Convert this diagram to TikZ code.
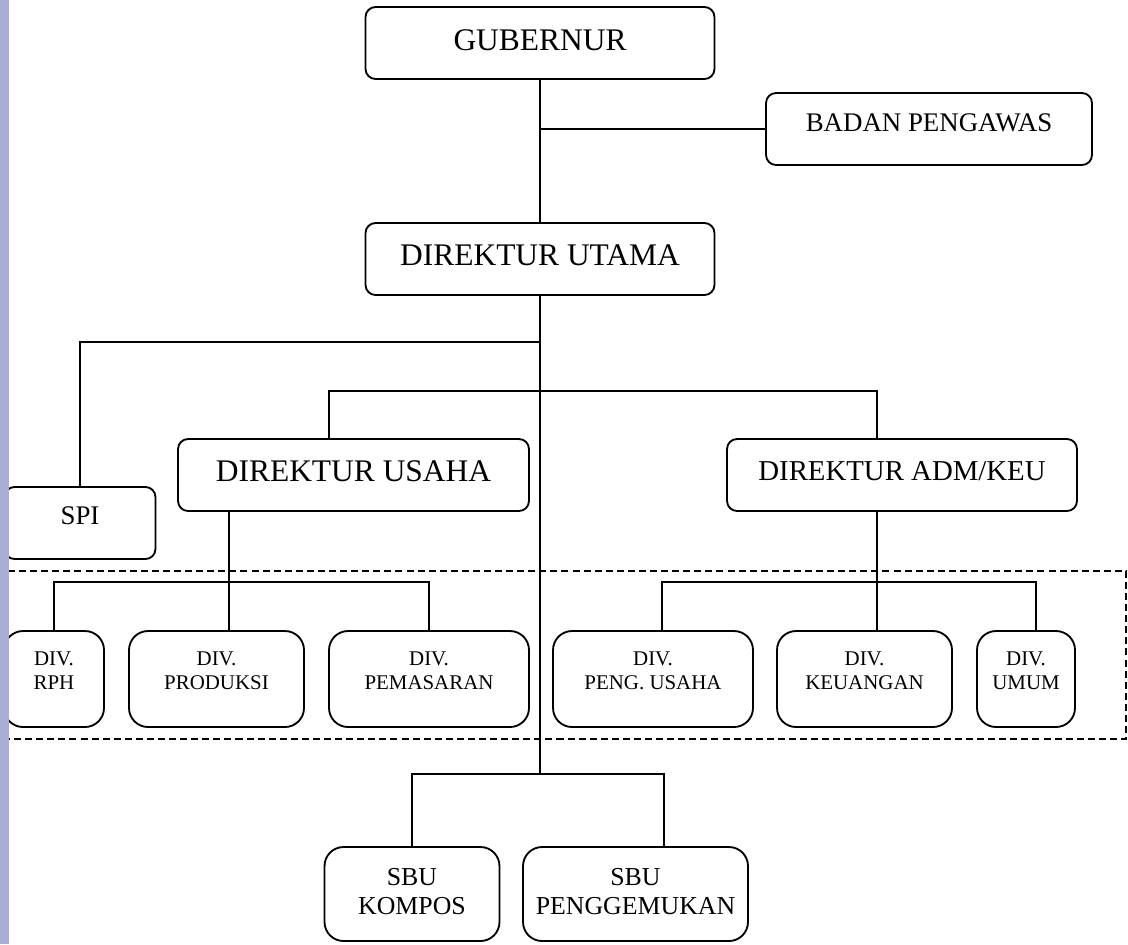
\documentclass[tikz,border=0pt]{standalone}
\usepackage{fontspec}
\setmainfont{Liberation Serif}
\definecolor{sidebar}{RGB}{170,174,214}
% lines of a box, optionally lifted a little
\newcommand{\boxlines}[2][0pt]{\raisebox{#1}[\height][\depth]{\begin{tabular}{@{}c@{}}#2\end{tabular}}}
\begin{document}
\begin{tikzpicture}[x=0.02cm, y=-0.02cm, line width=1.05pt,
          every node/.style = {draw,
                               inner sep = 0pt,
                               outer sep = 0pt},
          bigbox/.style     = {rounded corners = 0.2cm,
                               minimum height  = 1.44cm,
                               font = \fontsize{17.9}{21}\selectfont},
          midbox/.style     = {bigbox,
                               font = \fontsize{15.3}{18}\selectfont},
          divbox/.style     = {rounded corners = 0.38cm,
                               minimum height  = 1.92cm,
                               font = \fontsize{11.9}{13.6}\selectfont},
          sbubox/.style     = {rounded corners = 0.38cm,
                               minimum height  = 1.88cm,
                               font = \fontsize{14.7}{17}\selectfont},
          divider/.style    = {dash pattern = on 4pt off 2.3pt}]

  \useasboundingbox (0,0) rectangle (1128,944);

  % top levels
  \node[bigbox, minimum width = 6.98cm] (gub)   at (540,43)    {\boxlines{GUBERNUR}};
  \node[midbox, minimum width = 6.52cm] (badan) at (929,129)   {\boxlines[2pt]{BADAN PENGAWAS}};
  \node[bigbox, minimum width = 6.98cm] (dirut) at (540,259)   {\boxlines[0.6pt]{DIREKTUR UTAMA}};
  \node[midbox, minimum width = 3.02cm] (spi)   at (80,523)    {\boxlines[2.5pt]{SPI}};
  \node[bigbox, minimum width = 7.02cm] (usaha) at (353.5,475) {\boxlines[0.6pt]{DIREKTUR USAHA}};
  \node[bigbox, minimum width = 7.0cm,
        font = \fontsize{16.4}{19}\selectfont] (adm) at (902,475) {\boxlines[0.6pt]{DIREKTUR ADM/KEU}};

  % divisions
  \node[divbox, minimum width = 2.0cm]  (rph)   at (54,679)    {\boxlines[3.4pt]{DIV.\\RPH}};
  \node[divbox, minimum width = 3.5cm]  (prod)  at (216.5,679) {\boxlines[3.4pt]{DIV.\\PRODUKSI}};
  \node[divbox, minimum width = 4.0cm]  (pemas) at (429,679)   {\boxlines[3.4pt]{DIV.\\PEMASARAN}};
  \node[divbox, minimum width = 4.0cm]  (peng)  at (653,679)   {\boxlines[3.4pt]{DIV.\\PENG. USAHA}};
  \node[divbox, minimum width = 3.5cm]  (keu)   at (864.5,679) {\boxlines[3.4pt]{DIV.\\KEUANGAN}};
  \node[divbox, minimum width = 1.96cm] (umum)  at (1026,679)  {\boxlines[3.4pt]{DIV.\\UMUM}};

  % business units
  \node[sbubox, minimum width = 3.5cm] (kompos) at (412,894)   {\boxlines{SBU\\KOMPOS}};
  \node[sbubox, minimum width = 4.5cm] (gemuk)  at (635.5,894) {\boxlines{SBU\\PENGGEMUKAN}};

  \path (540,129)  coordinate (pengawas)
        (540,342)  coordinate (spi top)
        (540,774)  coordinate (sbu top)
        (329,391)  coordinate (usaha up)
        (877,391)  coordinate (adm up)
        (229,582)  coordinate (usaha down)
        (877,582)  coordinate (adm down)
        (662,582)  coordinate (peng in)
        (1036,582) coordinate (umum in)
        (664,774)  coordinate (gemuk in);

  \draw (gub.south)   -- (dirut.north);
  \draw (pengawas)    -- (badan.west);
  \draw (dirut.south) -- (sbu top);
  \draw (spi top)     -| (spi.north);
  \draw (usaha.north -| usaha up) -- (usaha up) -- (adm up) -- (adm.north -| adm up);

  \draw (usaha.south -| usaha down) -- (prod.north -| usaha down);
  \draw (rph.north) -- (rph.north |- usaha down) -- (pemas.north |- usaha down) -- (pemas.north);
  \draw (adm.south -| adm down) -- (keu.north -| adm down);
  \draw (peng.north -| peng in) -- (peng in) -- (umum in) -- (umum.north -| umum in);

  \draw (kompos.north) -- (kompos.north |- sbu top) -- (gemuk in) -- (gemuk.north -| gemuk in);

  \draw[divider] (5,571) rectangle (1126,739);
  \fill[sidebar] (0,0) rectangle (9,944);
\end{tikzpicture}
\end{document}
